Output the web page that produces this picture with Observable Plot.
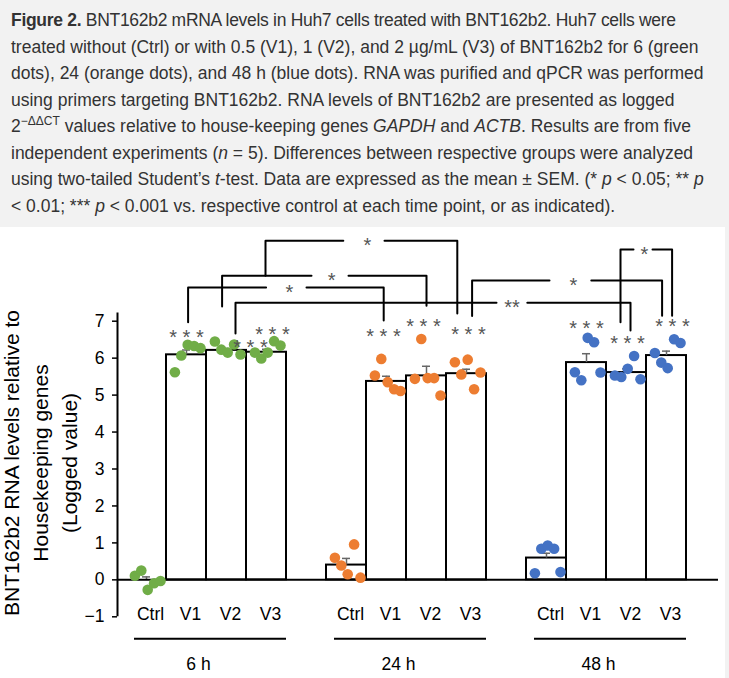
<!DOCTYPE html>
<html><head><meta charset="utf-8">
<script src="https://cdn.jsdelivr.net/npm/d3@7"></script>
<script src="https://cdn.jsdelivr.net/npm/@observablehq/plot@0.6"></script>
<style>
html,body{margin:0;padding:0;background:#f2f2f2;}
body{width:729px;height:678px;overflow:hidden;font-family:"Liberation Sans",Arial,sans-serif;}
#caption{height:227px;box-sizing:border-box;padding:7px 0 0 11px;font-size:17.5px;line-height:26.5px;color:#333;white-space:nowrap;}
#caption .l1{letter-spacing:-0.3px;}
#caption sup{font-size:12px;line-height:0;vertical-align:7px;}
#chart{width:725px;height:451px;background:#fff;}
#chart svg{display:block;overflow:visible;}
</style></head><body>
<div id="caption">
<span class="l1"><b>Figure 2.</b> BNT162b2 mRNA levels in Huh7 cells treated with BNT162b2. Huh7 cells were</span><br>
treated without (Ctrl) or with 0.5 (V1), 1 (V2), and 2 µg/mL (V3) of BNT162b2 for 6 (green<br>
dots), 24 (orange dots), and 48 h (blue dots). RNA was purified and qPCR was performed<br>
using primers targeting BNT162b2. RNA levels of BNT162b2 are presented as logged<br>
2<sup>−ΔΔCT</sup> values relative to house-keeping genes <i>GAPDH</i> and <i>ACTB</i>. Results are from five<br>
independent experiments (<i>n</i> = 5). Differences between respective groups were analyzed<br>
using two-tailed Student’s <i>t</i>-test. Data are expressed as the mean ± SEM. (* <i>p</i> &lt; 0.05; ** <i>p</i><br>
&lt; 0.01; *** <i>p</i> &lt; 0.001 vs. respective control at each time point, or as indicated).
</div>
<div id="chart"></div>
<script>
// ---- data ----
const groups = ["6 h", "24 h", "48 h"];
const treatments = ["Ctrl", "V1", "V2", "V3"];
const yTicks = [-1, 0, 1, 2, 3, 4, 5, 6, 7];

const mean6h  = [0.00, 6.09, 6.21, 6.16];
const mean24h = [0.40, 5.37, 5.52, 5.58];
const mean48h = [0.59, 5.88, 5.61, 6.07];

const sem6h  = [0.08, 0.13, 0.05, 0.08];
const sem24h = [0.18, 0.14, 0.26, 0.12];
const sem48h = [0.13, 0.24, 0.10, 0.12];

const dots6h = [
  [0.11, 0.25, -0.27, -0.09, -0.03],
  [5.62, 6.07, 6.36, 6.33, 6.27],
  [6.45, 6.23, 6.15, 6.37, 6.10],
  [6.15, 5.99, 6.15, 6.46, 6.34]
];
const dots24h = [
  [0.60, 0.39, 0.15, 0.96, 0.06],
  [5.53, 5.98, 5.35, 5.16, 5.11],
  [5.44, 6.52, 5.46, 5.46, 4.99],
  [5.89, 5.56, 5.96, 5.16, 5.61]
];
const dots48h = [
  [0.18, 0.84, 0.93, 0.84, 0.21],
  [5.62, 5.40, 6.55, 6.43, 5.61],
  [5.53, 5.49, 5.71, 6.06, 5.43],
  [6.14, 5.88, 5.73, 6.51, 6.41]
];

// significance vs control (label per treated bar)
const sigLabels = ["* * *", "* * *", "* * *", "* * *", "* * *", "* * *", "* * *", "* * *", "* * *"];
const sigBars   = [1, 2, 3, 6, 7, 8, 11, 12, 13];
const sigShift  = [0, 0.6, 0.15, -0.075, -0.075, 0.05, 0, 0.025, 0.15];
const sigLevel  = [6.70, 6.42, 6.77, 6.71, 6.98, 6.77, 6.94, 6.53, 6.98];

// comparison brackets
const bracketText  = ["*", "*", "*", "**", "*", "*"];
const bracketLevel = [9.18, 8.23, 7.91, 7.50, 8.10, 8.94];
const bracketLeft  = [2.975, 1.89, 1.04, 2.225, 8.14, 11.85];
const bracketRight = [7.77, 7.0, 5.93, 12.1, 12.89, 13.14];
const bracketLeftEnd  = [8.23, 7.40, 6.97, 6.67, 7.14, 6.97];
const bracketRightEnd = [7.21, 7.42, 7.02, 6.75, 7.15, 7.15];
const bracketTextX = [5.52, 4.63, 3.575, 9.14, 10.675, 12.45];
const bracketGapL  = [4.92, 4.125, 2.99, 8.75, 10.075, 12.175];
const bracketGapR  = [5.95, 5.05, 4.0, 9.52, 11.12, 12.65];

// ---- build tables ----
const groupColors = ["#70ad47", "#ed7d31", "#4472c4"];
const means = [mean6h, mean24h, mean48h];
const sems = [sem6h, sem24h, sem48h];
const dotSets = [dots6h, dots24h, dots48h];

const bars = [];
const points = [];
groups.forEach((g, gi) => treatments.forEach((t, ti) => {
  const slot = gi * 5 + ti;
  bars.push({group: g, treatment: t, slot, mean: means[gi][ti], sem: sems[gi][ti]});
  dotSets[gi][ti].forEach((v, j) => points.push({slot: slot + (j - 2) * 0.16 + 0.03, value: v, color: groupColors[gi]}));
}));

const sig = sigLabels.map((s, i) => ({text: s, x: sigBars[i] + sigShift[i], y: sigLevel[i]}));

const segs = [];
bracketText.forEach((t, i) => {
  segs.push({id: i + "L", x: bracketLeft[i], y: bracketLeftEnd[i]});
  segs.push({id: i + "L", x: bracketLeft[i], y: bracketLevel[i]});
  segs.push({id: i + "L", x: bracketGapL[i], y: bracketLevel[i]});
  segs.push({id: i + "R", x: bracketGapR[i], y: bracketLevel[i]});
  segs.push({id: i + "R", x: bracketRight[i], y: bracketLevel[i]});
  segs.push({id: i + "R", x: bracketRight[i], y: bracketRightEnd[i]});
});
const bracketLabels = bracketText.map((t, i) => ({text: t, x: bracketTextX[i], y: bracketLevel[i]}));

const groupRows = groups.map((g, gi) => ({group: g, start: gi * 5, end: gi * 5 + 3}));

const xMin = -0.725, xMax = 14.3;

const plot = Plot.plot({
  width: 725,
  height: 451,
  marginLeft: 117,
  marginRight: 7,
  marginTop: 93.7,
  marginBottom: 61.7,
  x: {type: "linear", domain: [xMin, xMax], axis: null},
  y: {domain: [-1, 7], axis: null},
  style: {fontFamily: "'Liberation Sans', Arial, sans-serif", background: "#fff", color: "black", overflow: "visible"},
  marks: [
    Plot.rect(bars, {x1: d => d.slot - 0.5, x2: d => d.slot + 0.5, y1: 0, y2: "mean", fill: "white", stroke: "black", strokeWidth: 2}),
    Plot.ruleX(bars, {x: "slot", y1: "mean", y2: d => d.mean + d.sem, stroke: "#666", strokeWidth: 1.5}),
    Plot.ruleY(bars, {y: d => d.mean + d.sem, x1: d => d.slot - 0.1, x2: d => d.slot + 0.1, stroke: "#666", strokeWidth: 1.5}),
    Plot.ruleY([0], {x1: xMin, x2: xMax, stroke: "black", strokeWidth: 2}),
    Plot.ruleX([xMin], {y1: -1, y2: 7.22, stroke: "black", strokeWidth: 2}),
    Plot.axisY({ticks: yTicks, tickSize: 5, tickPadding: 8, fontSize: 17.5, label: null, strokeWidth: 1.5}),
    Plot.dot(points, {x: "slot", y: "value", r: 5.3, fill: "color", stroke: null}),
    Plot.text(sig, {x: "x", y: "y", text: "text", fontSize: 20, fill: "#555", dy: 5}),
    Plot.line(segs, {x: "x", y: "y", z: "id", stroke: "black", strokeWidth: 2, curve: "linear"}),
    Plot.text(bracketLabels, {x: "x", y: "y", text: "text", fontSize: 20, fill: "#555", dy: 5}),
    Plot.text(bars, {x: "slot", y: -1, text: "treatment", fontSize: 17.5, dx: 4, dy: -2}),
    Plot.ruleY(groupRows, {y: -1, x1: d => d.start - 0.3, x2: d => d.end + 0.5, dy: 22, stroke: "black", strokeWidth: 2}),
    Plot.text(groupRows, {x: d => d.start + 1.3, y: -1, text: "group", fontSize: 17.5, dy: 48}),
    Plot.text(["BNT162b2 RNA levels relative to\nHousekeeping genes\n(Logged value)"], {
      frameAnchor: "left", rotate: -90, textAnchor: "middle", lineAnchor: "middle",
      lineHeight: 1.38, fontSize: 21, dx: -79, dy: -6, fill: "black"
    })
  ]
});
document.getElementById("chart").appendChild(plot);
</script>
</body></html>
